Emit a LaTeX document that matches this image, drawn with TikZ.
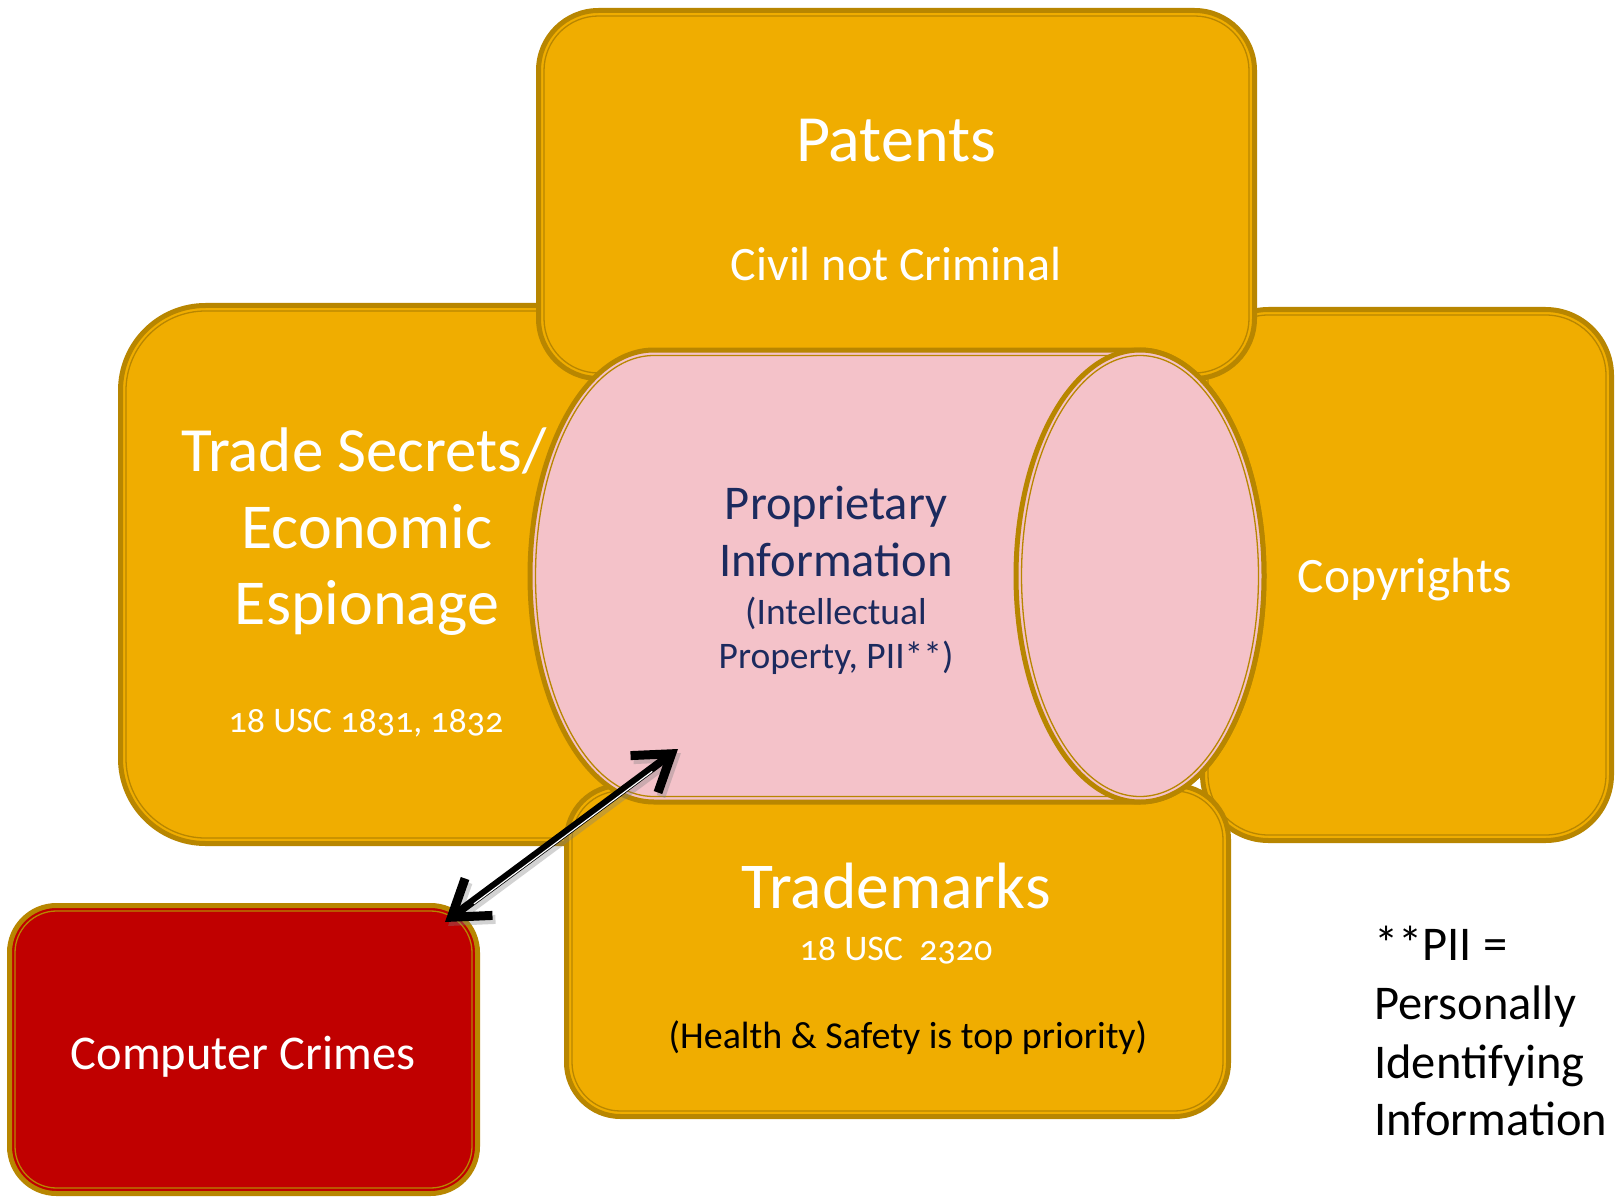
\documentclass[tikz,border=0pt]{standalone}
\usepackage{fontspec}
\setmainfont{Carlito}[Numbers=OldStyle]
\usetikzlibrary{arrows.meta}
\definecolor{boxgold}{RGB}{240,173,0}
\definecolor{bordergold}{RGB}{184,134,0}
\definecolor{cylpink}{RGB}{244,194,201}
\definecolor{crimered}{RGB}{192,0,0}
\definecolor{navytext}{RGB}{28,42,94}
\tikzset{
  panel/.style={draw=bordergold, line width=5pt, rounded corners=#1, inner sep=0pt,
    path picture={\draw[bordergold, line width=1.3pt, rounded corners=#1-5.5pt]
      ([shift={(5.5pt,5.5pt)}]path picture bounding box.south west) rectangle
      ([shift={(-5.5pt,-5.5pt)}]path picture bounding box.north east);}},
  wtxt/.style={inner sep=0pt, anchor=base, text=white},
  ntxt/.style={inner sep=0pt, anchor=base, text=navytext},
  btxt/.style={inner sep=0pt, anchor=base, text=black},
  biglink/.style={line width=8pt, black,
    {Straight Barb[length=34pt, width=46pt, line width=9pt]}-{Straight Barb[length=34pt, width=46pt, line width=9pt]}},
}
\begin{document}
\begin{tikzpicture}[x=1pt,y=-1pt]
\useasboundingbox (0,0) rectangle (1622,1198);
\fill[white] (0,0) rectangle (1622,1198);

% Trade secrets
\node[panel=85pt, fill=boxgold, minimum width=537pt, minimum height=538pt] (trade) at (389,574.5) {};
\node[wtxt, font=\fontsize{63}{77}\selectfont] (tradeA) at (364,471) {Trade Secrets/};
\node[wtxt, font=\fontsize{64}{77}\selectfont] (tradeB) at (367,548) {Economic};
\node[wtxt, font=\fontsize{64}{77}\selectfont] (tradeC) at (367,624) {Espionage};
\node[wtxt, font=\fontsize{36}{42}\selectfont] (tradeD) at (366,732) {18 USC 1831, 1832};

% Copyrights
\node[panel=66pt, fill=boxgold, minimum width=409pt, minimum height=531pt] (copy) at (1407,575) {};
\node[wtxt, font=\fontsize{49.5}{58}\selectfont] (copyA) at (1405,592) {Copyrights};

% Patents
\node[panel=60pt, fill=boxgold, minimum width=716pt, minimum height=368pt] (pat) at (896.5,194.5) {};
\node[wtxt, font=\fontsize{66}{78}\selectfont] (patA) at (896,162) {Patents};
\node[wtxt, font=\fontsize{48}{58}\selectfont] (patB) at (896,281) {Civil not Criminal};

% Trademarks
\node[panel=54pt, fill=boxgold, minimum width=662pt, minimum height=331pt] (tm) at (897.5,951) {};
\node[wtxt, font=\fontsize{65.5}{77}\selectfont] (tmA) at (896,908) {Trademarks};
\node[wtxt, font=\fontsize{36}{43}\selectfont] (tmB) at (896,960) {18 USC~ 2320};
\node[btxt, font=\fontsize{38}{46}\selectfont] (tmC) at (908,1048) {(Health \& Safety is top priority)};

% Cylinder
\path[fill=cylpink, draw=bordergold, line width=5pt]
  (654,350) -- (1140,350) arc[start angle=-90, end angle=90, x radius=124, y radius=226]
  -- (654,802) arc[start angle=90, end angle=270, x radius=124, y radius=226] -- cycle;
\draw[bordergold, line width=1.3pt]
  (654,355.5) -- (1140,355.5) arc[start angle=-90, end angle=90, x radius=118.5, y radius=220.5]
  -- (654,796.5) arc[start angle=90, end angle=270, x radius=118.5, y radius=220.5] -- cycle;
\path[fill=cylpink, draw=bordergold, line width=5pt] (1140,576) ellipse [x radius=124, y radius=226];
\draw[bordergold, line width=1.3pt] (1140,576) ellipse [x radius=118.5, y radius=220.5];
\node[ntxt, font=\fontsize{48.5}{56}\selectfont] (cylA) at (836,519) {Proprietary};
\node[ntxt, font=\fontsize{48.5}{56}\selectfont] (cylB) at (836,576) {Information};
\node[ntxt, font=\fontsize{37.5}{44}\selectfont] (cylC) at (836,624) {(Intellectual};
\node[ntxt, font=\fontsize{37.5}{44}\selectfont] (cylD) at (836,668) {Property, PII**)};

% Computer crimes
\node[panel=47pt, fill=crimered, minimum width=468pt, minimum height=288pt] (cc) at (243.5,1049.5) {};
\node[wtxt, font=\fontsize{48.5}{58}\selectfont] (ccA) at (243,1069) {Computer Crimes};

% Arrow
\coordinate (arrA) at (445,922);
\coordinate (arrB) at (678,749);
\draw[biglink, draw=gray, opacity=0.35] ([shift={(3pt,-4pt)}]arrA) -- ([shift={(3pt,-4pt)}]arrB);
\draw[biglink] (arrA) -- (arrB);
\draw[white, line width=1.2pt, shorten <=34pt, shorten >=34pt] ([shift={(1.6pt,-2.1pt)}]arrA) -- ([shift={(1.6pt,-2.1pt)}]arrB);

% PII note
\node[btxt, anchor=base west, font=\fontsize{48.5}{58}\selectfont] (piiA) at (1374,960) {**PII =};
\node[btxt, anchor=base west, font=\fontsize{48.5}{58}\selectfont] (piiB) at (1374,1019) {Personally};
\node[btxt, anchor=base west, font=\fontsize{48.5}{58}\selectfont] (piiC) at (1374,1078) {Identifying};
\node[btxt, anchor=base west, font=\fontsize{48.5}{58}\selectfont] (piiD) at (1374,1135) {Information};
\end{tikzpicture}
\end{document}
